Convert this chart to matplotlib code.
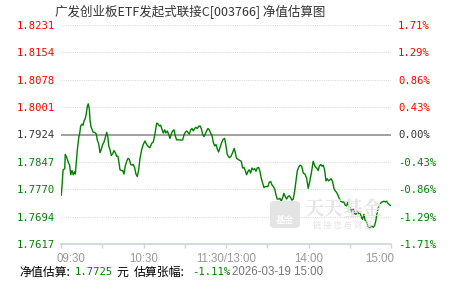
import matplotlib
matplotlib.use("Agg")
import matplotlib.pyplot as plt
from matplotlib.patches import FancyBboxPatch

plt.rcParams['font.family'] = ['Noto Sans CJK SC', 'DejaVu Sans']

# 数据: 交易分钟 (0 = 09:30, 120 = 11:30/13:00, 240 = 15:00) 和估算净值
minutes = [
    0.2, 0.9, 1.5, 2.7, 3.1, 3.9, 4.6, 5.6, 6.3, 7.1, 8.0, 8.9, 9.7, 10.4, 11.1, 11.9,
    12.9, 13.6, 14.3, 15.3, 16.0, 16.7, 17.7, 18.4, 19.1, 19.8, 20.6, 21.1, 21.8, 22.5,
    23.3, 24.5, 25.7, 26.4, 27.4, 28.4, 29.3, 30.3, 31.3, 32.2, 33.2, 34.0, 34.7, 35.6,
    36.6, 37.6, 38.5, 39.5, 40.5, 41.4, 42.2, 42.9, 43.8, 44.9, 45.8, 46.7, 47.8, 48.7,
    49.7, 50.7, 51.6, 52.6, 53.6, 54.5, 55.5, 56.5,
    57.4, 58.7, 59.8, 61.1, 62.3, 63.5, 64.7, 65.9, 67.1, 68.3, 69.6, 70.7, 71.5, 72.5,
    73.4, 74.4, 75.4, 76.3, 77.3, 78.3, 79.2, 80.2, 81.2, 82.2, 83.1, 84.1, 85.3, 86.5,
    87.8, 88.5, 89.4, 90.4, 91.4, 92.3, 93.3, 94.3, 95.2, 96.2, 97.2, 98.1, 99.1, 100.1,
    101.1, 102.0, 103.0, 104.0, 104.9, 105.9, 106.9, 107.8, 108.8, 109.8, 110.7, 111.7,
    112.7, 113.6, 114.6,
    115.6, 116.8, 118.0, 119.0, 120.0, 120.9, 122.4, 123.6, 124.8, 126.0, 127.0, 127.7,
    128.9, 130.1, 131.1, 132.1, 133.0, 134.0, 135.0, 136.0, 136.9, 137.9, 138.9, 139.8,
    140.8, 141.8, 142.7, 143.7, 144.7, 145.6, 146.6, 147.6, 148.5, 149.6, 150.5, 151.4,
    152.5, 153.4, 154.4, 155.4, 156.4, 157.3, 158.3, 159.2, 160.2, 161.2, 162.1, 163.1,
    164.1, 165.1, 166.0, 167.0, 167.9, 168.9, 169.9, 170.8, 171.8, 172.8,
    173.8, 175.0, 176.2, 177.4, 178.6, 179.8, 181.0, 182.3, 183.4, 184.7, 185.9, 187.1,
    187.8, 188.9, 189.8, 190.7, 191.7, 192.7, 193.6, 194.6, 195.6, 196.5, 197.5, 198.5,
    199.4, 200.4, 201.4, 202.3, 203.3, 204.8, 205.7, 206.7, 207.7, 208.6, 209.6, 210.6,
    211.6, 212.5, 213.5, 214.5, 215.4, 216.4, 217.4, 218.3, 219.3, 220.3, 221.2, 222.3,
    223.2, 224.1, 225.2, 226.1, 227.1, 228.1, 229.0, 230.0, 231.0, 232.0, 232.9, 233.9,
    234.8, 235.8, 236.8, 237.8, 238.7, 239.5,
]
nav = [
    1.7754, 1.7788, 1.7825, 1.7828, 1.7868, 1.7862, 1.7854, 1.7843, 1.7838, 1.7811, 1.7823,
    1.7811, 1.7819, 1.7813, 1.7844, 1.7882, 1.7915, 1.7927, 1.7948, 1.7953, 1.7950, 1.7961,
    1.7970, 1.7982, 1.8002, 1.8010, 1.7996, 1.7965, 1.7946, 1.7939, 1.7931, 1.7930, 1.7925,
    1.7908, 1.7898, 1.7873, 1.7882, 1.7896, 1.7903, 1.7915, 1.7930, 1.7920, 1.7892, 1.7882,
    1.7865, 1.7870, 1.7879, 1.7873, 1.7863, 1.7863, 1.7844, 1.7825, 1.7823, 1.7823, 1.7813,
    1.7835, 1.7849, 1.7857, 1.7854, 1.7840, 1.7838, 1.7840, 1.7830, 1.7813, 1.7806, 1.7825,
    1.7856, 1.7882, 1.7896, 1.7906, 1.7896, 1.7890, 1.7887, 1.7899, 1.7903, 1.7925, 1.7956,
    1.7953, 1.7948, 1.7950, 1.7939, 1.7928, 1.7937, 1.7928, 1.7934, 1.7925, 1.7913, 1.7925,
    1.7934, 1.7937, 1.7920, 1.7909, 1.7909, 1.7909, 1.7908, 1.7909, 1.7922, 1.7930, 1.7934,
    1.7930, 1.7925, 1.7937, 1.7941, 1.7934, 1.7941, 1.7944, 1.7941, 1.7947, 1.7948, 1.7941,
    1.7925, 1.7918, 1.7925, 1.7934, 1.7941, 1.7937, 1.7928, 1.7922, 1.7903, 1.7892, 1.7896,
    1.7884, 1.7875,
    1.7887, 1.7901, 1.7911, 1.7913, 1.7892, 1.7868, 1.7859, 1.7863, 1.7873, 1.7885, 1.7868,
    1.7857, 1.7854, 1.7851, 1.7849, 1.7830, 1.7832, 1.7823, 1.7811, 1.7821, 1.7825, 1.7816,
    1.7830, 1.7825, 1.7828, 1.7821, 1.7830, 1.7832, 1.7821, 1.7802, 1.7788, 1.7775, 1.7778,
    1.7778, 1.7778, 1.7790, 1.7792, 1.7783, 1.7778, 1.7771, 1.7754, 1.7743, 1.7743, 1.7745,
    1.7737, 1.7747, 1.7759, 1.7750, 1.7743, 1.7750, 1.7752, 1.7747, 1.7740, 1.7743, 1.7764,
    1.7792, 1.7821, 1.7832,
    1.7838, 1.7835, 1.7816, 1.7813, 1.7802, 1.7773, 1.7794, 1.7821, 1.7849, 1.7835, 1.7830,
    1.7823, 1.7835, 1.7840, 1.7835, 1.7838, 1.7825, 1.7794, 1.7800, 1.7794, 1.7797, 1.7800,
    1.7792, 1.7773, 1.7766, 1.7762, 1.7754, 1.7745, 1.7737, 1.7734, 1.7735, 1.7726, 1.7724,
    1.7735, 1.7721, 1.7717, 1.7705, 1.7715, 1.7702, 1.7700, 1.7709, 1.7702, 1.7707, 1.7693,
    1.7686, 1.7700, 1.7683, 1.7679, 1.7667, 1.7662, 1.7664, 1.7667, 1.7664, 1.7669, 1.7683,
    1.7707, 1.7721, 1.7728, 1.7734, 1.7735, 1.7737, 1.7735, 1.7737, 1.7731, 1.7728, 1.7725,
]

base_nav = 1.7924
nav_ticks = [1.8231, 1.8154, 1.8078, 1.8001, 1.7924, 1.7847, 1.7770, 1.7694, 1.7617]
pct_labels = ['1.71%', '1.29%', '0.86%', '0.43%', '0.00%', '-0.43%', '-0.86%', '-1.29%', '-1.71%']
time_ticks = [0, 60, 120, 180, 240]
time_labels = ['09:30', '10:30', '11:30/13:00', '14:00', '15:00']

title = '广发创业板ETF发起式联接C[003766] 净值估算图'
est_nav = '1.7725'
est_pct = '-1.11%'
est_time = '2026-03-19 15:00'

RED = '#ff0000'
GREEN = '#008000'
DARK = '#333333'


def level_color(v):
    if v > base_nav + 1e-9:
        return RED
    if v < base_nav - 1e-9:
        return GREEN
    return DARK


fig = plt.figure(figsize=(4.51, 2.81), dpi=100)
ax = fig.add_axes([61 / 451, 1 - 244 / 281, 330 / 451, (244 - 25) / 281])

# 网格线
for v in nav_ticks:
    if abs(v - base_nav) < 1e-9:
        ax.axhline(v, color='#999999', lw=1.3, zorder=1)
    elif v != nav_ticks[-1]:
        ax.axhline(v, color='#dddddd', lw=0.8, ls=(0, (1, 1)), zorder=1)

ax.plot(minutes, nav, color=GREEN, lw=1.0, zorder=3)

ax.set_xlim(0, 240)
ax.set_ylim(nav_ticks[-1], nav_ticks[0])

for s in ['top', 'left', 'right']:
    ax.spines[s].set_visible(False)
ax.spines['bottom'].set_color('#c8d4e0')
ax.spines['bottom'].set_linewidth(1.2)

ax.set_xticks(list(range(0, 241, 30)))
ax.set_xticklabels([])
ax.tick_params(axis='x', length=3, color='#c8d4e0', width=1)
ax.tick_params(axis='y', length=0, pad=4)

ax.set_yticks(nav_ticks)
ax.set_yticklabels([f'{v:.4f}' for v in nav_ticks], family='DejaVu Sans Mono', fontsize=7.6)
for lbl, v in zip(ax.get_yticklabels(), nav_ticks):
    lbl.set_color(level_color(v))

ax2 = ax.twinx()
ax2.set_ylim(ax.get_ylim())
ax2.set_yticks(nav_ticks)
ax2.set_yticklabels(pct_labels, family='DejaVu Sans Mono', fontsize=7.6)
ax2.tick_params(axis='y', length=0, pad=5)
for s in ax2.spines.values():
    s.set_visible(False)
for lbl, v in zip(ax2.get_yticklabels(), nav_ticks):
    lbl.set_color(level_color(v))

# 时间标签
for t, lab in zip(time_ticks, time_labels):
    ha = 'center'
    if t == time_ticks[0]:
        ha = 'left'
    elif t == time_ticks[-1]:
        ha = 'right'
    ax.annotate(lab, xy=(t, 0), xycoords=('data', 'axes fraction'),
                xytext=(-3 if ha == 'left' else (2 if ha == 'right' else 0), -11),
                textcoords='offset points', ha=ha, va='center',
                family='Liberation Sans', fontsize=8.3, color='#999999')

# 水印
wm = '#e4e4e4'
icon = FancyBboxPatch((270 / 451, 1 - 228 / 281), 30 / 451, 27 / 281,
                      boxstyle='round,pad=0,rounding_size=0.012',
                      transform=fig.transFigure, fc=wm, ec='none', zorder=0)
fig.patches.append(icon)
fig.text(285 / 451, 1 - 220 / 281, '基金', fontsize=6.5, color='white', ha='center', va='center',
         weight='bold')
fig.text(343 / 451, 1 - 209 / 281, '天天基金', fontsize=14, color=wm, ha='center', va='center',
         weight='bold', family=['Noto Serif CJK SC', 'Noto Sans CJK SC'])
fig.text(343 / 451, 1 - 225 / 281, '链 接 您 与 财 富', fontsize=6, color=wm, ha='center', va='center')

# 标题
fig.text(190 / 451, 1 - 12 / 281, title, fontsize=9, color=DARK, ha='center', va='center')

# 底部说明
yb = 1 - 272 / 281
fig.text(19 / 451, yb, '净值估算:', fontsize=8.6, color='black', va='center')
fig.text(75 / 451, yb, est_nav, fontsize=7.6, color=GREEN, va='center', family='DejaVu Sans Mono')
fig.text(116 / 451, yb, '元', fontsize=8.6, color='black', va='center')
fig.text(134 / 451, yb, '估算张幅:', fontsize=8.6, color='black', va='center')
fig.text(192 / 451, yb, est_pct, fontsize=7.6, color=GREEN, va='center', family='DejaVu Sans Mono')
fig.text(232 / 451, yb, est_time, fontsize=8.3, color='#777777', va='center', family='Liberation Sans')

fig.savefig('out.png', dpi=100)
